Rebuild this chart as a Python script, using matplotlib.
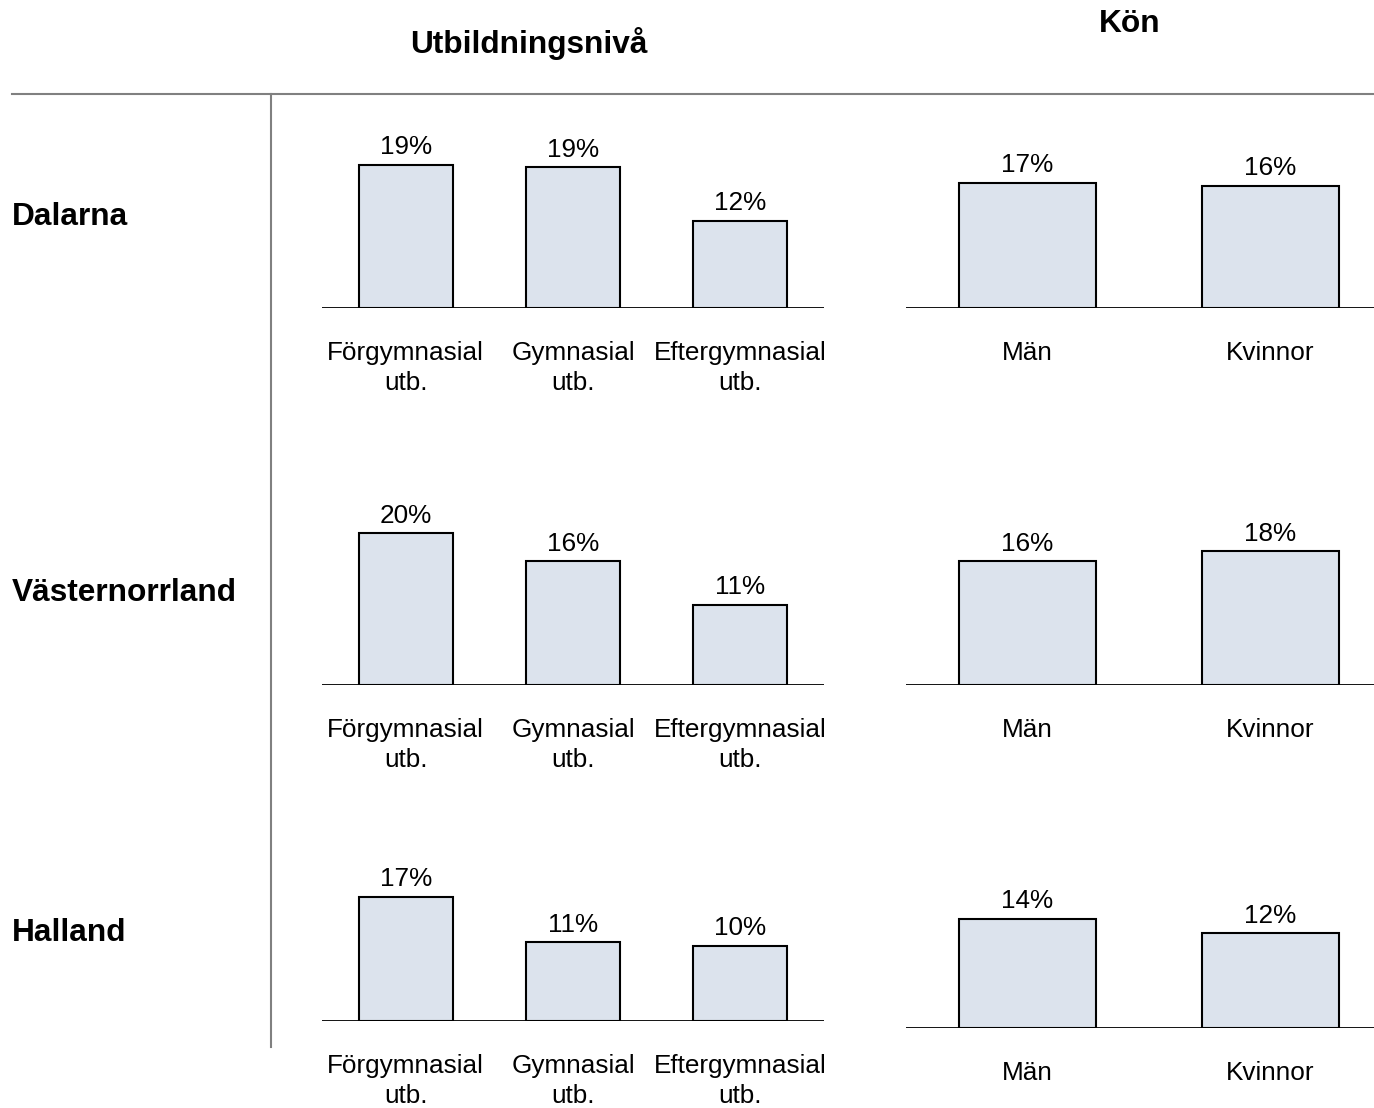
import matplotlib.pyplot as plt

plt.rcParams['font.family'] = ['Liberation Sans', 'DejaVu Sans']

# data
regions = ['Dalarna', 'Västernorrland', 'Halland']
edu_labels = ['Förgymnasial\nutb.', 'Gymnasial\nutb.', 'Eftergymnasial\nutb.']
sex_labels = ['Män', 'Kvinnor']
edu_values = [
    [19.2, 18.9, 11.7],
    [20.1, 16.4, 10.6],
    [17.0, 10.8, 10.3],
]
sex_values = [
    [16.8, 16.4],
    [16.4, 17.7],
    [14.2, 12.3],
]

W, H = 1374, 1108
DPI = 100
fig = plt.figure(figsize=(W / DPI, H / DPI), dpi=DPI)

BAR_COLOR = '#dce3ed'
FS = 18.8
TITLE_FS = 22.8


def px_axes(x0, x1, y_base, height):
    # axes placed in pixel coordinates (y measured from top)
    return fig.add_axes([x0 / W, 1 - y_base / H, (x1 - x0) / W, height / H])


def draw_panel(ax, labels, values, xlim, scale, height):
    xs = list(range(len(values)))
    ax.bar(xs, values, width=0.56, color=BAR_COLOR, edgecolor='black', linewidth=1.5, zorder=2)
    ax.axhline(0, color='black', linewidth=1.3, zorder=3)
    for x, v in zip(xs, values):
        ax.annotate(f'{v:.0f}%', (x, v), xytext=(0, 4), textcoords='offset points',
                    ha='center', va='bottom', fontsize=FS)
    ax.set_xlim(*xlim)
    ax.set_ylim(0, height / scale)
    ax.set_xticks(xs)
    ax.set_xticklabels(labels, fontsize=FS, linespacing=1.28)
    ax.tick_params(axis='x', length=0, pad=24)
    ax.set_yticks([])
    for s in ax.spines.values():
        s.set_visible(False)
    ax.patch.set_alpha(0)


left_base = [308, 685, 1021]
right_base = [308, 685, 1028]
left_scale = [7.45, 7.55, 7.3]
right_scale = [7.45, 7.55, 7.7]
row_y = [217, 593, 933]
PANEL_H = 200

for i in range(3):
    ax = px_axes(322, 824, left_base[i], PANEL_H)
    draw_panel(ax, edu_labels, edu_values[i], (-0.5, 2.5), left_scale[i], PANEL_H)
    ax = px_axes(906, 1392, right_base[i], PANEL_H)
    draw_panel(ax, sex_labels, sex_values[i], (-0.5, 1.5), right_scale[i], PANEL_H)
    fig.text(12 / W, 1 - row_y[i] / H, regions[i], fontsize=TITLE_FS, fontweight='bold',
             ha='left', va='center')

fig.text(529 / W, 1 - 43 / H, 'Utbildningsnivå', fontsize=TITLE_FS, fontweight='bold',
         ha='center', va='center')
fig.text(1130 / W, 1 - 24 / H, 'Kön', fontsize=TITLE_FS, fontweight='bold',
         ha='center', va='center')

# divider lines
fig.add_artist(plt.Line2D([12 / W, 1], [1 - 94 / H, 1 - 94 / H], color='#808080', linewidth=1.5))
fig.add_artist(plt.Line2D([271 / W, 271 / W], [1 - 94 / H, 1 - 1047 / H], color='#808080', linewidth=1.5))

fig.savefig('out.png', dpi=DPI)
plt.close(fig)
